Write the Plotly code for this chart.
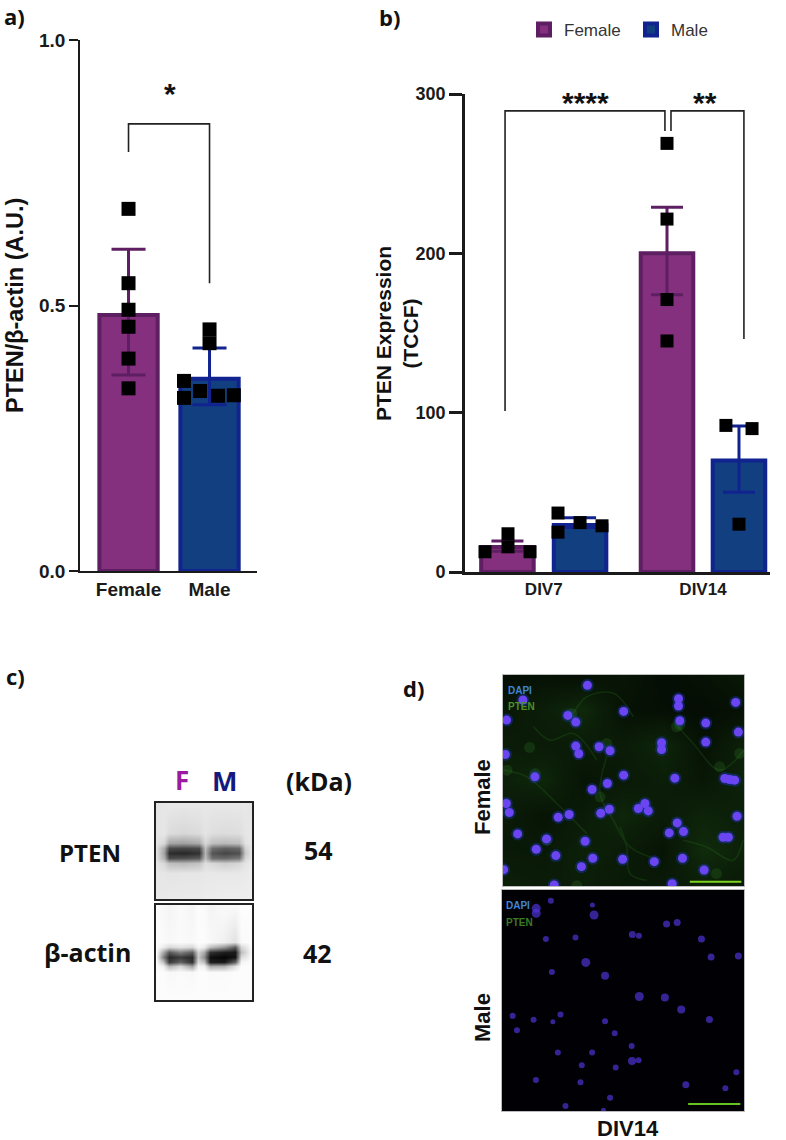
import plotly.graph_objects as go

W, H = 786, 1140
def fx(p): return p / W
def fy(p): return 1 - p / H

# ---------- Panel a data ----------
a_x = [0, 1]
a_labels = ["Female", "Male"]
a_mean = [0.482, 0.362]
a_err_up = [0.124, 0.058]
a_err_dn = [0.113, 0.049]
a_f_px = [0, 0, 0, 0, 0, 0]
a_f_py = [0.682, 0.542, 0.492, 0.46, 0.40, 0.344]
a_m_px = [1, 1, 0.685, 0.685, 0.883, 1.105, 1.30]
a_m_py = [0.455, 0.429, 0.358, 0.326, 0.339, 0.33, 0.331]
a_br_x = [0, 0, 1, 1]
a_br_y = [0.789, 0.842, 0.842, 0.542]

# ---------- Panel b data ----------
b_groups = ["DIV7", "DIV14"]
b_f_x = [-0.228, 0.774]
b_m_x = [0.228, 1.226]
b_f_mean = [15.7, 200]
b_m_mean = [29.5, 70]
b_f_up = [3.8, 29]
b_f_dn = [2.7, 26]
b_m_up = [4.5, 21.6]
b_m_dn = [1.5, 20]
b_f_px = [-0.369, -0.2245, -0.2245, -0.086, 0.774, 0.774, 0.774, 0.774]
b_f_py = [12.7, 24, 15.8, 12.7, 269, 221.5, 171, 145]
b_m_px = [0.0895, 0.0895, 0.228, 0.366, 1.144, 1.308, 1.226]
b_m_py = [37, 25, 31, 29, 92, 90, 30]
b_br1_x = [-0.243, -0.243, 0.761, 0.761]
b_br1_y = [101, 289.4, 289.4, 276.8]
b_br2_x = [0.799, 0.799, 1.257, 1.257]
b_br2_y = [276.8, 289.4, 289.4, 146.3]

# ---------- Panel c data (grey levels read from the blots) ----------
pten_x = [467, 490, 505, 550, 595, 615, 635, 675, 715, 735, 755]
pten_y = [430, 520, 550, 565, 580, 595, 610, 640, 716]
pten_z = [
    [228, 230, 232, 232, 232, 232, 232, 232, 232, 232, 228],
    [228, 230, 220, 215, 220, 228, 222, 220, 222, 230, 230],
    [228, 215, 165, 160, 170, 215, 190, 185, 190, 225, 232],
    [225, 170, 75, 70, 75, 190, 110, 95, 105, 210, 232],
    [225, 160, 45, 40, 50, 180, 85, 70, 80, 200, 232],
    [225, 175, 75, 80, 90, 190, 110, 105, 120, 215, 232],
    [228, 215, 190, 185, 195, 222, 215, 205, 215, 228, 234],
    [230, 230, 228, 230, 230, 232, 232, 232, 232, 234, 236],
    [232, 232, 234, 234, 234, 236, 236, 238, 238, 238, 238],
]
actin_x = [467, 488, 505, 540, 575, 592, 612, 630, 670, 705, 722, 755]
actin_y = [735, 845, 860, 875, 890, 905, 918, 935, 1020]
actin_z = [
    [252, 248, 244, 250, 245, 252, 250, 244, 250, 250, 252, 252],
    [252, 250, 248, 250, 248, 252, 252, 248, 240, 225, 250, 252],
    [252, 235, 215, 225, 215, 245, 235, 190, 150, 90, 215, 252],
    [252, 170, 90, 130, 95, 210, 170, 50, 30, 25, 190, 252],
    [252, 130, 40, 60, 40, 200, 140, 15, 5, 20, 220, 252],
    [252, 195, 60, 100, 50, 220, 190, 30, 25, 100, 245, 252],
    [252, 240, 180, 215, 160, 245, 240, 170, 175, 225, 252, 252],
    [252, 252, 248, 250, 248, 252, 252, 250, 250, 252, 252, 252],
    [252, 252, 252, 252, 252, 252, 252, 252, 252, 252, 252, 252],
]

# ---------- Panel d data (nuclei positions, image coordinates) ----------
fem_x = [562, 836, 836, 1008, 503, 527, 671, 319, 840, 918, 1016, 918, 785, 785, 597, 630, 527, 536, 315, 404,
         671, 825, 975, 990, 1005, 622, 576, 318, 327, 474, 507, 602, 628, 715, 735, 745, 1012, 832, 808,
         851, 970, 986, 352, 439, 555, 408, 467, 578, 544, 668, 763, 848, 913, 817, 462, 310, 368]
fem_y = [76, 116, 138, 127, 166, 186, 154, 180, 182, 189, 216, 246, 248, 268, 260, 272, 258, 281, 283, 350,
         345, 354, 355, 358, 360, 370, 388, 430, 457, 471, 463, 459, 447, 445, 430, 452, 468, 488, 518,
         514, 531, 531, 521, 536, 543, 567, 586, 594, 619, 597, 604, 594, 629, 670, 674, 628, 120]
fem_haze_x = [515, 388, 405, 840, 620, 600, 960, 830, 320, 1020, 530, 440, 950]
fem_haze_y = [160, 262, 340, 195, 250, 410, 320, 200, 330, 280, 676, 540, 640]
fil_x = [400, 450, 520, 590, None, 520, 560, 640, 700, None, 830, 880, 960, 1033, None,
         620, 600, 640, 690, 780, None, 850, 920, 1000, 1030, None, 310, 380, 470, 560, None,
         660, 680, 690, 740]
fil_y = [200, 240, 220, 300, None, 160, 110, 100, 170, None, 195, 250, 330, 270, None,
         290, 400, 480, 560, 600, None, 540, 560, 600, 540, None, 330, 350, 430, 520, None,
         500, 560, 640, 660]
bg_x = [308, 430, 550, 670, 790, 910, 1033]
bg_y = [45, 150, 255, 360, 465, 570, 677]
bg_z = [
    [0.10, 0.14, 0.12, 0.18, 0.10, 0.14, 0.20],
    [0.18, 0.24, 0.32, 0.14, 0.12, 0.10, 0.14],
    [0.22, 0.22, 0.22, 0.22, 0.30, 0.14, 0.26],
    [0.26, 0.30, 0.16, 0.20, 0.24, 0.18, 0.28],
    [0.22, 0.16, 0.22, 0.30, 0.22, 0.28, 0.24],
    [0.20, 0.20, 0.26, 0.22, 0.16, 0.34, 0.26],
    [0.26, 0.22, 0.24, 0.20, 0.20, 0.24, 0.20],
]
mal_bg_x = [305, 1033]
mal_bg_y = [30, 692]
mal_bg_z = [[0, 0], [0, 0]]
mal_x = [452, 408, 408, 577, 582, 800, 832, 697, 717, 437, 526, 905, 934, 1016, 557, 455, 615, 718, 795, 844, 929,
         337, 400, 458, 481, 350, 615, 644, 695, 473, 576, 696, 716, 545, 647, 407, 541, 858, 977, 1010, 630,
         496, 610]
mal_y = [62, 85, 100, 75, 105, 132, 127, 163, 167, 177, 172, 177, 231, 228, 247, 276, 287, 349, 352, 388, 418,
         407, 419, 425, 403, 450, 423, 459, 497, 517, 517, 542, 540, 555, 562, 599, 606, 613, 624, 576, 652,
         677, 690]
mal_s = [6, 9, 9, 5, 9, 7, 7, 7, 6, 6, 6, 7, 7, 7, 9, 6, 8, 9, 8, 8, 7,
         6, 6, 5, 6, 6, 6, 6, 6, 6, 6, 8, 6, 6, 6, 6, 6, 7, 6, 6, 6,
         6, 5]
fem_bar_x = [870, 1025]
fem_bar_y = [664, 664]
mal_bar_x = [865, 1022]
mal_bar_y = [671, 671]

PUR, PUR_D = "#84307E", "#5E1F62"
BLU, BLU_D = "#123F80", "#10238F"
AXFONT = "Liberation Sans"
CAL = "Open Sans"

fig = go.Figure()

def bar(x, y, up, dn, fill, edge, width, capw, xa, ya, name, legend):
    fig.add_trace(go.Bar(
        x=x, y=y, width=width, xaxis=xa, yaxis=ya, name=name, showlegend=legend,
        marker=dict(color=fill, line=dict(color=edge, width=4)),
        error_y=dict(type="data", array=up, arrayminus=dn, color=edge, thickness=3, width=capw),
    ))

def pts(x, y, size, xa, ya):
    fig.add_trace(go.Scatter(x=x, y=y, mode="markers", xaxis=xa, yaxis=ya, showlegend=False,
                             marker=dict(symbol="square", color="black", size=size)))

def line(x, y, xa, ya, color="#222222", w=1.6, opacity=1, shape="linear"):
    fig.add_trace(go.Scatter(x=x, y=y, mode="lines", xaxis=xa, yaxis=ya, showlegend=False, opacity=opacity,
                             line=dict(color=color, width=w, shape=shape), hoverinfo="skip"))

# Panel a
bar([a_x[0]], [a_mean[0]], [a_err_up[0]], [a_err_dn[0]], PUR, PUR_D, 0.72, 17, "x", "y", "Female", False)
bar([a_x[1]], [a_mean[1]], [a_err_up[1]], [a_err_dn[1]], BLU, BLU_D, 0.72, 17, "x", "y", "Male", False)
pts(a_f_px, a_f_py, 14, "x", "y")
pts(a_m_px, a_m_py, 14, "x", "y")
line(a_br_x, a_br_y, "x", "y")

# Panel b
bar(b_f_x, b_f_mean, b_f_up, b_f_dn, PUR, PUR_D, 0.33, 16, "x2", "y2", "Female", True)
bar(b_m_x, b_m_mean, b_m_up, b_m_dn, BLU, BLU_D, 0.33, 16, "x2", "y2", "Male", True)
pts(b_f_px, b_f_py, 13, "x2", "y2")
pts(b_m_px, b_m_py, 13, "x2", "y2")
line(b_br1_x, b_br1_y, "x2", "y2")
line(b_br2_x, b_br2_y, "x2", "y2")

# Panel c
gray = [[0, "#000000"], [1, "#ffffff"]]
fig.add_trace(go.Heatmap(x=pten_x, y=pten_y, z=pten_z, colorscale=gray, zmin=0, zmax=255, zsmooth="best",
                         showscale=False, xaxis="x3", yaxis="y3", hoverinfo="skip"))
fig.add_trace(go.Heatmap(x=actin_x, y=actin_y, z=actin_z, colorscale=gray, zmin=0, zmax=255, zsmooth="best",
                         showscale=False, xaxis="x4", yaxis="y4", hoverinfo="skip"))

# Panel d female
green = [[0, "#000000"], [1, "#2E7D22"]]
fig.add_trace(go.Heatmap(x=bg_x, y=bg_y, z=bg_z, colorscale=green, zmin=0, zmax=1, zsmooth="best",
                         showscale=False, xaxis="x5", yaxis="y5", hoverinfo="skip"))
line(fil_x, fil_y, "x5", "y5", "#3F9A30", 1.6, 0.16, "spline")
fig.add_trace(go.Scatter(x=fem_haze_x, y=fem_haze_y, mode="markers", xaxis="x5", yaxis="y5", showlegend=False,
                         marker=dict(color="#3F9A30", size=11, opacity=0.18, line=dict(width=0))))
fig.add_trace(go.Scatter(x=fem_x, y=fem_y, mode="markers", xaxis="x5", yaxis="y5", showlegend=False,
                         marker=dict(color="#1B3FD0", size=13, opacity=0.35, line=dict(width=0))))
fig.add_trace(go.Scatter(x=fem_x, y=fem_y, mode="markers", xaxis="x5", yaxis="y5", showlegend=False,
                         marker=dict(color="#6B45F2", size=9, line=dict(width=0))))
line(fem_bar_x, fem_bar_y, "x5", "y5", "#7ED321", 2)

# Panel d male
fig.add_trace(go.Heatmap(x=mal_bg_x, y=mal_bg_y, z=mal_bg_z, colorscale=[[0, "#000005"], [1, "#000005"]],
                         showscale=False, xaxis="x6", yaxis="y6", hoverinfo="skip"))
fig.add_trace(go.Scatter(x=mal_x, y=mal_y, mode="markers", xaxis="x6", yaxis="y6", showlegend=False,
                         marker=dict(color="#4D33D6", size=mal_s, line=dict(width=0))))
line(mal_bar_x, mal_bar_y, "x6", "y6", "#66C21E", 2)

def dom_x(a, b): return [fx(a), fx(b)]
def dom_y(top, bot): return [fy(bot), fy(top)]

def ax_common(lw, ticklen, size):
    return dict(showline=True, linecolor="#1a1a1a", linewidth=lw, ticks="outside", ticklen=ticklen,
                tickwidth=lw, tickcolor="#1a1a1a", showgrid=False, zeroline=False,
                tickfont=dict(family=AXFONT, size=size, color="#1a1a1a", weight="bold"))

def img_ax(rng, dom, anchor, color, lw):
    return dict(range=rng, domain=dom, anchor=anchor, showgrid=False, zeroline=False, showticklabels=False,
                ticks="", showline=True, mirror=True, linecolor=color, linewidth=lw)

xa = ax_common(1.8, 0, 19); xa.update(domain=dom_x(80, 257), range=[-0.599, 1.586], anchor="y",
                                      tickvals=a_x, ticktext=a_labels, ticks="")
ya = ax_common(1.8, 9, 19); ya.update(domain=dom_y(40, 571), range=[0, 1], anchor="x",
                                      tickvals=[0, 0.5, 1], ticktext=["0.0", "0.5", "1.0"])
xb = ax_common(2.8, 0, 17); xb.update(domain=dom_x(465, 770), range=[-0.4945, 1.4208], anchor="y2",
                                      tickvals=[0, 1], ticktext=b_groups, ticks="")
yb = ax_common(2.8, 13, 18); yb.update(domain=dom_y(94, 572), range=[0, 300], anchor="x2",
                                       tickvals=[0, 100, 200, 300])

fig.update_layout(
    width=W, height=H, margin=dict(l=0, r=0, t=0, b=0, autoexpand=False), autosize=False,
    paper_bgcolor="white", plot_bgcolor="white", barmode="overlay", hovermode=False,
    xaxis=xa, yaxis=ya, xaxis2=xb, yaxis2=yb,
    xaxis3=img_ax([467, 755], dom_x(156, 252), "y3", "#222222", 2),
    yaxis3=img_ax([716, 430], dom_y(803, 899), "x3", "#222222", 2),
    xaxis4=img_ax([467, 755], dom_x(156, 252), "y4", "#222222", 2),
    yaxis4=img_ax([1020, 735], dom_y(905, 1000), "x4", "#222222", 2),
    xaxis5=img_ax([308, 1033], dom_x(503, 744), "y5", "#BBBBBB", 1),
    yaxis5=img_ax([677, 45], dom_y(675, 886), "x5", "#BBBBBB", 1),
    xaxis6=img_ax([305, 1033], dom_x(502, 744), "y6", "#BBBBBB", 1),
    yaxis6=img_ax([692, 30], dom_y(890, 1111), "x6", "#BBBBBB", 1),
    legend=dict(orientation="h", x=fx(524), y=fy(30), xanchor="left", yanchor="middle",
                entrywidth=62, entrywidthmode="pixels",
                font=dict(family=AXFONT, size=17, color="#333333"), bgcolor="rgba(0,0,0,0)",
                itemclick=False, itemdoubleclick=False),
)

def txt(s, x, y, size, font=AXFONT, bold=True, color="#111111", rot=0, align="center"):
    fig.add_annotation(text=s, x=fx(x), y=fy(y), xref="paper", yref="paper", showarrow=False,
                       xanchor="center", yanchor="middle", textangle=rot, align=align,
                       font=dict(family=font, size=size, color=color, weight="bold" if bold else "normal"))

txt("a)", 14, 16, 22, CAL)
txt("b)", 389, 17, 22, CAL)
txt("c)", 15, 676, 22, CAL)
txt("d)", 413, 688, 22, CAL)

txt("PTEN/β-actin (A.U.)", 15, 306, 23.5, rot=-90)
txt("PTEN Expression<br>(TCCF)", 397, 334, 21, rot=-90)
txt("*", 170, 93, 30)
txt("****", 585, 103, 30)
txt("**", 705, 103, 30)

txt("F", 182, 780, 26, CAL, color="#9B1BA0")
txt("M", 224, 780, 27, CAL, color="#15197F")
txt("(kDa)", 319, 781, 25, CAL)
txt("PTEN", 90, 852, 24, CAL)
txt("β-actin", 87, 952, 25, CAL)
txt("54", 318, 850, 25, CAL)
txt("42", 317, 953, 25, CAL)

txt("Female", 482, 797, 22, rot=-90)
txt("Male", 482, 1018, 22, rot=-90)
txt("DIV14", 628, 1128, 22)
txt("DAPI", 520, 690, 10, color="#3F85D6")
txt("PTEN", 521, 706, 10, color="#4F8F2A")
txt("DAPI", 518, 905, 10, color="#3F85D6")
txt("PTEN", 519, 922, 10, color="#3C7A22")

# The default page margin would otherwise clip the labels at the left edge.
fig.write_html("out.html", config={"displayModeBar": False},
               post_script="document.body.style.margin='0';")
